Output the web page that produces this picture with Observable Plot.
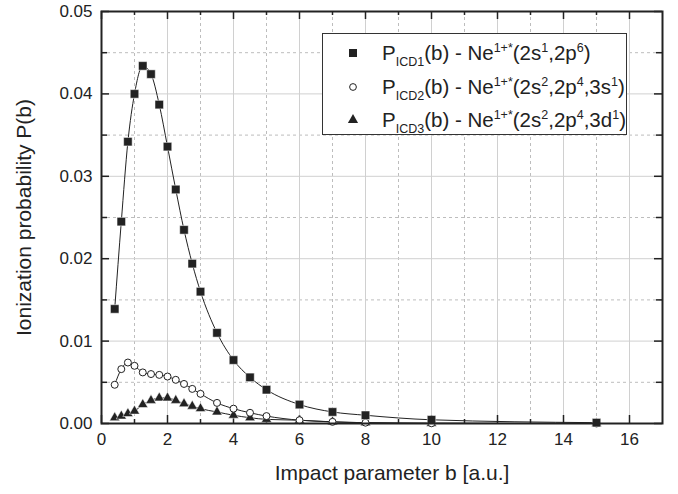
<!DOCTYPE html>
<html>
<head>
<meta charset="utf-8">
<script src="https://cdn.jsdelivr.net/npm/d3@7"></script>
<script src="https://cdn.jsdelivr.net/npm/@observablehq/plot@0.6"></script>
<style>
  html, body { margin: 0; padding: 0; background: white; }
  #wrap { position: relative; width: 678px; height: 494px; font-family: "Liberation Sans", Arial, sans-serif; }
  #legend { position: absolute; left: 322px; top: 33px; width: 305px; height: 102px; border: 1px solid #333; background: white; box-sizing: border-box; color: #222; }
  .row { position: absolute; left: 0; height: 30px; width: 100%; font-size: 20.5px; line-height: 30px; }
  .row svg { position: absolute; left: 22px; top: 7px; }
  .row .t { position: absolute; left: 59px; top: 0; white-space: nowrap; }
  .row sub { font-size: 12.5px; vertical-align: -6px; line-height: 0; }
  .row sup { font-size: 12.5px; vertical-align: 8px; line-height: 0; }
</style>
</head>
<body>
<div id="wrap"></div>
<script>
const b = [0.4, 0.6, 0.8, 1.0, 1.25, 1.5, 1.75, 2.0, 2.25, 2.5, 2.75, 3.0, 3.5, 4, 4.5, 5, 6, 7, 8, 10, 15];
const icd1 = [0.0139, 0.0245, 0.0342, 0.0400, 0.0434, 0.0424, 0.0387, 0.0336, 0.0284, 0.0235, 0.0194, 0.0160, 0.0110, 0.0077, 0.0056, 0.0041, 0.0023, 0.0014, 0.0010, 0.00045, 0.0001];
const icd2 = [0.0047, 0.0066, 0.0074, 0.0070, 0.0062, 0.0060, 0.0059, 0.0057, 0.0053, 0.0048, 0.0042, 0.0036, 0.0025, 0.0018, 0.0013, 0.0009, 0.0004, 0.0002, 0.0001, 0.00003, 0.0];
const icd3 = [0.0007, 0.0009, 0.0012, 0.0015, 0.0023, 0.0028, 0.0031, 0.0031, 0.0028, 0.0024, 0.0021, 0.0018, 0.0014, 0.0010, 0.0007, 0.0005, 0.0004, 0.0002, 0.0001, 0.00003, 0.0];

const xMajor = [0, 2, 4, 6, 8, 10, 12, 14, 16];
const xMinor = [1, 3, 5, 7, 9, 11, 13, 15];
const yMajor = [0, 0.01, 0.02, 0.03, 0.04, 0.05];
const yMinor = [0.005, 0.015, 0.025, 0.035, 0.045];
const xLabel = "Impact parameter b [a.u.]";
const yLabel = "Ionization probability P(b)";

const s1 = b.map((x, i) => ({b: x, p: icd1[i]}));
const s2 = b.map((x, i) => ({b: x, p: icd2[i]}));
const s3 = b.map((x, i) => ({b: x, p: icd3[i]}));

const W = 678, H = 494, mL = 101, mR = 16, mT = 11, mB = 71;
const pw = W - mL - mR, ph = H - mT - mB;
const ink = "#222";

const chart = Plot.plot({
  width: W, height: H,
  marginLeft: mL, marginRight: mR, marginTop: mT, marginBottom: mB,
  x: {domain: [0, 17]},
  y: {domain: [0, 0.05]},
  style: {fontFamily: "'Liberation Sans', Arial, sans-serif", background: "white", color: ink},
  marks: [
    Plot.gridX(xMinor, {stroke: "#bdbdbd", strokeOpacity: 1, strokeDasharray: "3,3"}),
    Plot.gridY(yMinor, {stroke: "#bdbdbd", strokeOpacity: 1, strokeDasharray: "3,3"}),
    Plot.gridX(xMajor, {stroke: "#d0d0d0", strokeOpacity: 1}),
    Plot.gridY(yMajor, {stroke: "#d0d0d0", strokeOpacity: 1}),
    // inward ticks
    Plot.tickX(xMajor, {x: d => d, insetTop: ph - 8, stroke: ink, strokeWidth: 1.5}),
    Plot.tickX(xMinor, {x: d => d, insetTop: ph - 4, stroke: ink, strokeWidth: 1.5}),
    Plot.tickX(xMajor, {x: d => d, insetBottom: ph - 8, stroke: ink, strokeWidth: 1.5}),
    Plot.tickX(xMinor, {x: d => d, insetBottom: ph - 4, stroke: ink, strokeWidth: 1.5}),
    Plot.tickY(yMajor, {y: d => d, insetRight: pw - 8, stroke: ink, strokeWidth: 1.5}),
    Plot.tickY(yMinor, {y: d => d, insetRight: pw - 6, stroke: ink, strokeWidth: 1.5}),
    Plot.tickY(yMajor, {y: d => d, insetLeft: pw - 8, stroke: ink, strokeWidth: 1.5}),
    Plot.tickY(yMinor, {y: d => d, insetLeft: pw - 6, stroke: ink, strokeWidth: 1.5}),
    Plot.axisX({ticks: xMajor, tickSize: 0, tickPadding: 9, fontSize: 17, label: null, tickFormat: d3.format("d")}),
    Plot.axisY({ticks: yMajor, tickSize: 0, tickPadding: 9, fontSize: 17, label: null, tickFormat: d3.format(".2f")}),
    Plot.line(s1, {x: "b", y: "p", curve: "monotone-x", stroke: ink, strokeWidth: 1}),
    Plot.line(s2, {x: "b", y: "p", curve: "monotone-x", stroke: ink, strokeWidth: 1}),
    Plot.line(s3, {x: "b", y: "p", curve: "monotone-x", stroke: ink, strokeWidth: 1}),
    Plot.dot(s3, {x: "b", y: "p", symbol: "triangle", r: 3.8, fill: ink, stroke: "white", strokeWidth: 0.5}),
    Plot.dot(s2, {x: "b", y: "p", symbol: "circle", r: 3.5, fill: "white", stroke: ink, strokeWidth: 1}),
    Plot.dot(s1, {x: "b", y: "p", symbol: "square", r: 4.8, fill: ink, stroke: "white", strokeWidth: 0.5}),
    Plot.frame({stroke: ink, strokeWidth: 2}),
    Plot.text([xLabel], {text: d => d, frameAnchor: "bottom", textAnchor: "middle", dx: 10, dy: 56, fontSize: 21, fill: ink}),
    Plot.text([yLabel], {text: d => d, frameAnchor: "left", textAnchor: "middle", rotate: -90, dx: -77, fontSize: 21, fill: ink})
  ]
});

const wrap = document.getElementById("wrap");
wrap.appendChild(chart);

const legendRows = [
  {sym: "square", html: 'P<sub>ICD1</sub>(b) - Ne<sup>1+*</sup>(2s<sup>1</sup>,2p<sup>6</sup>)'},
  {sym: "circle", html: 'P<sub>ICD2</sub>(b) - Ne<sup>1+*</sup>(2s<sup>2</sup>,2p<sup>4</sup>,3s<sup>1</sup>)'},
  {sym: "triangle", html: 'P<sub>ICD3</sub>(b) - Ne<sup>1+*</sup>(2s<sup>2</sup>,2p<sup>4</sup>,3d<sup>1</sup>)'}
];
const legend = document.createElement("div");
legend.id = "legend";
const symGen = {
  square: d3.symbol(d3.symbolSquare, 64)(),
  circle: d3.symbol(d3.symbolCircle, 36)(),
  triangle: d3.symbol(d3.symbolTriangle, 45)()
};
legendRows.forEach((r, i) => {
  const row = document.createElement("div");
  row.className = "row";
  row.style.top = (4 + i * 33.5) + "px";
  const fill = r.sym === "circle" ? "white" : ink;
  row.innerHTML = `<svg width="16" height="16" viewBox="-8 -8 16 16"><path d="${symGen[r.sym]}" fill="${fill}" stroke="${ink}" stroke-width="${r.sym === 'circle' ? 1 : 0}"/></svg><span class="t">${r.html}</span>`;
  legend.appendChild(row);
});
wrap.appendChild(legend);
</script>
</body>
</html>
